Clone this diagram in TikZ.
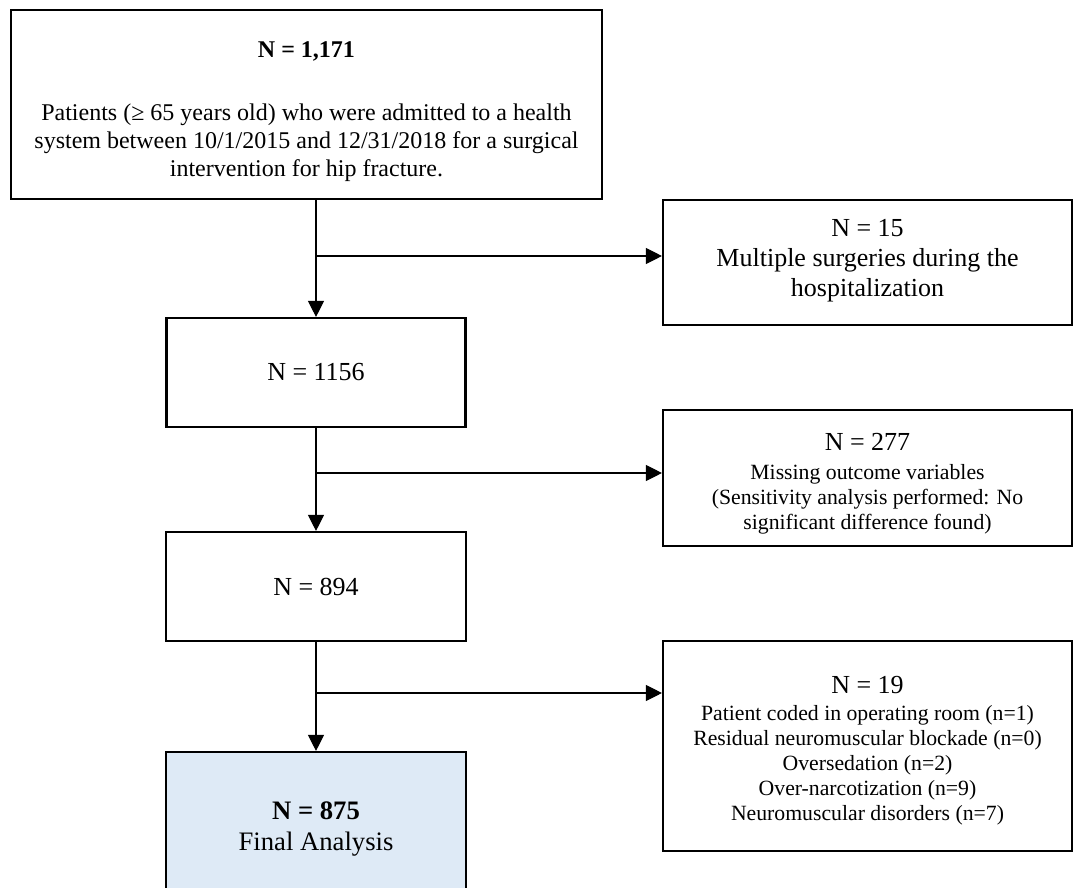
\documentclass[tikz,border=0pt]{standalone}
\usepackage{fontspec}
\setmainfont{Liberation Serif}
\usetikzlibrary{arrows.meta}
\definecolor{finalblue}{RGB}{222,234,246}
\newcommand{\headstrut}[1]{\rule{0pt}{#1}}

\begin{document}
\begin{tikzpicture}[x=0.75pt,y=-0.75pt,
    box/.style={draw,line width=1.6pt,align=center,inner sep=0pt},
    arr/.style={-{Triangle[width=12pt,length=12pt]},line width=0.8pt},
    bigtxt/.style={font=\fontsize{19.5}{22.5}\selectfont},
    smalltxt/.style={font=\fontsize{16.3}{18.75}\selectfont}]
\useasboundingbox (0,0) rectangle (1074,888);
\clip (0,0) rectangle (1074,888);

% main column
\node[box,minimum width=443.25pt,minimum height=141.75pt,font=\fontsize{18}{21}\selectfont] (top) at (306.5,104.5)
  {\headstrut{22.5pt}{\bfseries N = 1,171}\\[26pt]
   Patients (≥ 65 years old) who were admitted to a health\\
   system between 10/1/2015 and 12/31/2018 for a surgical\\
   intervention for hip fracture.};
\node[box,bigtxt,minimum width=224.25pt,minimum height=81.75pt] (n1156) at (316,372.5) {N = 1156};
\node[box,bigtxt,minimum width=225pt,minimum height=81.75pt] (n894) at (316,586.5) {N = 894};
\node[box,fill=finalblue,font=\fontsize{20}{23}\selectfont,minimum width=225pt,minimum height=115.5pt] (final) at (316,829)
  {{\bfseries N = 875}\\Final Analysis};

% excluded
\node[box,bigtxt,minimum width=306.75pt,minimum height=93.75pt] (ex15) at (867.5,262.5)
  {N = 15\\Multiple surgeries during the\\hospitalization\rule[-7pt]{0pt}{7pt}};
\node[box,smalltxt,minimum width=306.75pt,minimum height=102pt] (ex277) at (867.5,478)
  {\headstrut{22pt}{\fontsize{19.5}{22.5}\selectfont N = 277}\\[3pt]
   Missing outcome variables\\
   (Sensitivity analysis performed: No\\
   significant difference found)};
\node[box,smalltxt,minimum width=306.75pt,minimum height=157.5pt] (ex19) at (867.5,746)
  {\headstrut{20.5pt}{\fontsize{19.5}{22.5}\selectfont N = 19}\\[1.5pt]
   Patient coded in operating room (n=1)\\
   Residual neuromuscular blockade (n=0)\\
   Oversedation (n=2)\\
   Over-narcotization (n=9)\\
   Neuromuscular disorders (n=7)};

\coordinate (b1) at (n1156.north |- 0,256);
\coordinate (b2) at (n894.north |- 0,473);
\coordinate (b3) at (final.north |- 0,693);

\draw[arr] (n1156.north |- top.south) -- (n1156.north);
\draw[arr] (n1156.south) -- (n894.north);
\draw[arr] (n894.south) -- (final.north);
\draw[arr] (b1) -- (b1 -| ex15.west);
\draw[arr] (b2) -- (b2 -| ex277.west);
\draw[arr] (b3) -- (b3 -| ex19.west);
\end{tikzpicture}
\end{document}
